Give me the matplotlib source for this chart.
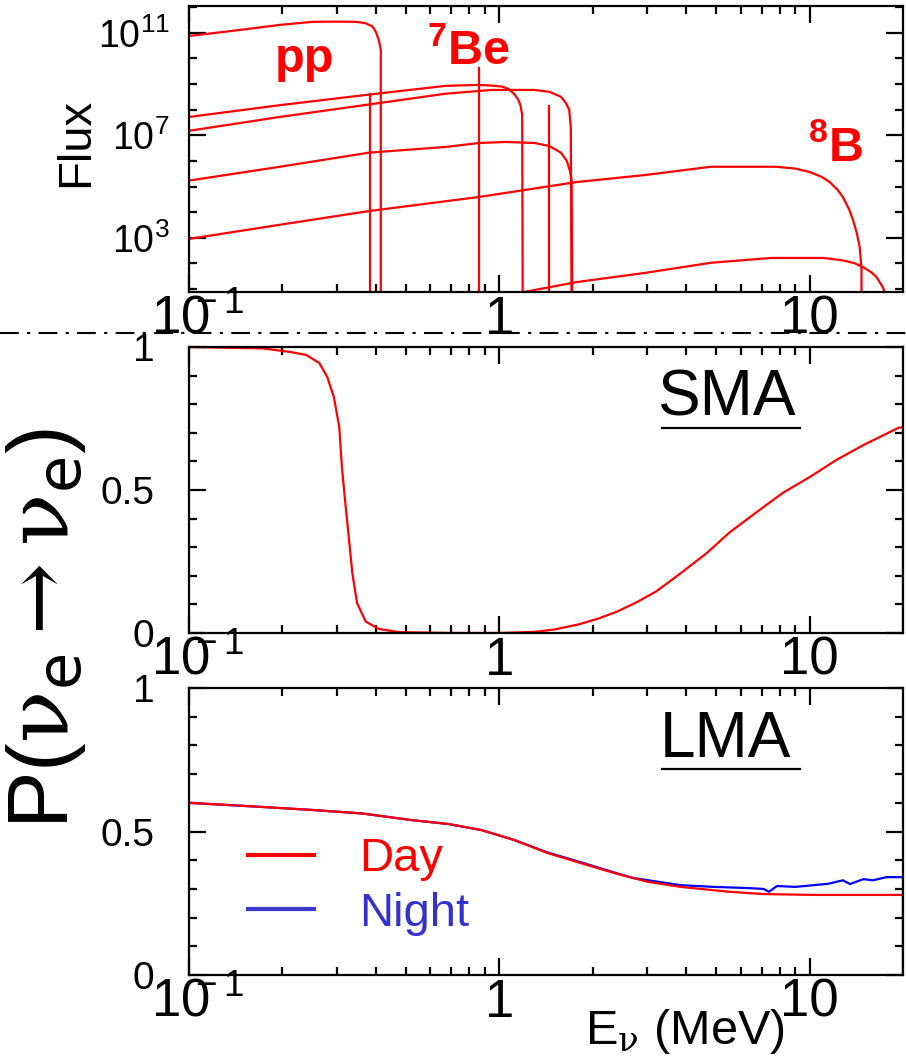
import numpy as np
import matplotlib
matplotlib.use("Agg")
import matplotlib.pyplot as plt
from matplotlib.lines import Line2D
from matplotlib.transforms import ScaledTranslation
from matplotlib.ticker import FixedLocator, FixedFormatter, NullFormatter

plt.rcParams['font.family'] = ['Liberation Sans', 'DejaVu Sans']
plt.rcParams['mathtext.fontset'] = 'custom'
plt.rcParams['mathtext.rm'] = 'Liberation Sans'
plt.rcParams['mathtext.it'] = 'Liberation Sans:italic'
plt.rcParams['mathtext.bf'] = 'Liberation Sans:bold'

# ---- top panel: solar neutrino fluxes ----
pp_E = [0.10, 0.13, 0.16, 0.196, 0.25, 0.30, 0.345, 0.37, 0.39, 0.40, 0.409, 0.415, 0.415]
pp_F = [7.6e10, 1.1e11, 1.5e11, 2.05e11, 2.7e11, 2.75e11, 2.7e11, 2.4e11, 1.8e11, 1.1e11, 5.3e10, 2.2e10, 1]

n13_E = [0.10, 0.196, 0.38, 0.67, 0.85, 0.94, 1.02, 1.07, 1.12, 1.15, 1.17, 1.185, 1.19]
n13_F = [5.2e7, 1.5e8, 3.9e8, 8.5e8, 9.3e8, 8.8e8, 8.0e8, 6.5e8, 4.0e8, 2.5e8, 1.5e8, 6.3e7, 1]

o15_E = [0.10, 0.196, 0.38, 0.67, 0.94, 1.30, 1.45, 1.58, 1.64, 1.68, 1.70, 1.71]
o15_F = [1.5e7, 5.2e7, 1.6e8, 4.2e8, 5.9e8, 5.9e8, 5.0e8, 3.2e8, 1.8e8, 1.0e8, 2.1e7, 1]

f17_E = [0.10, 0.196, 0.38, 0.67, 0.86, 1.05, 1.30, 1.45, 1.58, 1.65, 1.69, 1.71, 1.72]
f17_F = [1.7e5, 5.9e5, 2.1e6, 3.5e6, 5.0e6, 5.5e6, 5.0e6, 3.8e6, 2.1e6, 1.0e6, 4.0e5, 1.8e5, 1]

b8_E = [0.10, 0.196, 0.38, 0.86, 1.78, 2.94, 4.8, 7.8, 9.0, 10.0, 11.0, 11.6, 12.3, 12.8, 13.4, 13.8, 14.2, 14.5, 14.7, 14.7]
b8_F = [9.0e2, 3.2e3, 1.1e4, 3.9e4, 1.5e5, 2.8e5, 5.9e5, 5.9e5, 5.0e5, 3.7e5, 2.3e5, 1.5e5, 7.5e4, 3.9e4, 1.3e4, 5.0e3, 1.5e3, 4.4e2, 60, 1]

hep_E = [1.0, 1.78, 2.94, 4.8, 7.5, 11.1, 12.8, 14.0, 14.9, 15.8, 16.4, 17.2, 17.7]
hep_F = [5.0, 18.6, 42, 105, 162, 162, 130, 100, 70, 45, 30, 12, 5]

line_E = [0.384, 0.862, 1.442]      # 7Be (x2) and pep lines
line_F = [4.6e8, 4.7e9, 1.5e8]

# ---- middle panel: SMA survival probability ----
sma_E = [0.10, 0.173, 0.211, 0.239, 0.263, 0.279, 0.293, 0.305, 0.311, 0.32,
         0.328, 0.336, 0.348, 0.371, 0.409, 0.475, 0.7, 1.0, 1.3, 1.5, 1.8,
         2.08, 2.4, 2.8, 3.2, 3.8, 4.67, 5.5, 6.7, 8.2, 10.0, 12.2, 14.9, 19.3, 20.0, 20.0]
sma_P = [1.0, 0.995, 0.983, 0.972, 0.944, 0.895, 0.825, 0.72, 0.58, 0.44,
         0.325, 0.21, 0.105, 0.04, 0.014, 0.003, 0.0, 0.0, 0.004, 0.012, 0.03,
         0.05, 0.075, 0.11, 0.145, 0.205, 0.28, 0.35, 0.42, 0.49, 0.545, 0.605, 0.657, 0.717, 0.72, 0.0]

# ---- bottom panel: LMA day / night ----
day_E = [0.10, 0.169, 0.25, 0.36, 0.52, 0.686, 0.876, 1.12, 1.43, 1.83, 2.35,
         3.0, 3.84, 5.5, 7.1, 10.3, 20.0, 20.0]
day_P = [0.60, 0.586, 0.575, 0.563, 0.54, 0.526, 0.505, 0.47, 0.425, 0.39, 0.355,
         0.325, 0.307, 0.29, 0.282, 0.279, 0.279, 0.0]
night_E = [0.10, 0.169, 0.25, 0.36, 0.52, 0.686, 0.876, 1.12, 1.43, 1.83, 2.35,
           2.7, 3.84, 4.9, 6.3, 7.1, 7.4, 7.85, 9.0, 10.3, 11.5, 12.8, 13.5,
           14.9, 16.0, 17.7, 20.0, 20.0]
night_P = [0.60, 0.586, 0.575, 0.563, 0.54, 0.526, 0.505, 0.47, 0.427, 0.393, 0.357,
           0.338, 0.313, 0.307, 0.303, 0.30, 0.29, 0.31, 0.307, 0.313, 0.318, 0.33, 0.317,
           0.334, 0.33, 0.341, 0.341, 0.0]

x_major = [0.1, 1, 10]
x_labels = [r'$10^{\!\!\!\!-1}$', '1', '10']
x_minor = [0.2, 0.3, 0.4, 0.5, 0.6, 0.7, 0.8, 0.9, 2, 3, 4, 5, 6, 7, 8, 9]
flux_major = [1e3, 1e7, 1e11]
flux_labels = [r'$10^{3}$', r'$10^{7}$', r'$10^{11}$']
flux_minor = [1e1, 1e2, 1e4, 1e5, 1e6, 1e8, 1e9, 1e10, 1e12]

RED = '#ff0000'
W, H = 906, 1058
fig = plt.figure(figsize=(W / 100, H / 100), dpi=100)


def box(x0, y0, x1, y1):
    return [x0 / W, 1 - y1 / H, (x1 - x0) / W, (y1 - y0) / H]


def style(ax):
    ax.set_xscale('log')
    ax.set_xlim(0.1, 20)
    for s in ax.spines.values():
        s.set_linewidth(1.6)
    ax.xaxis.set_major_locator(FixedLocator(x_major))
    ax.xaxis.set_major_formatter(FixedFormatter(x_labels))
    ax.xaxis.set_minor_locator(FixedLocator(x_minor))
    ax.xaxis.set_minor_formatter(NullFormatter())
    ax.tick_params(which='both', direction='in', top=True, right=True, width=1.6)
    ax.tick_params(which='major', length=12)
    ax.tick_params(which='minor', length=6)
    ax.tick_params(axis='x', labelsize=38, pad=2)
    # nudge the 10^-1 label so that its "10" sits centred on the tick
    first = ax.xaxis.get_majorticklabels()[0]
    first.set_transform(first.get_transform() + ScaledTranslation(0.09, 0, fig.dpi_scale_trans))


# top panel
ax1 = fig.add_axes(box(189, 6, 903, 292))
style(ax1)
ax1.set_yscale('log')
ax1.set_ylim(10 ** 0.88, 10 ** 12.05)
for e, f in [(pp_E, pp_F), (n13_E, n13_F), (o15_E, o15_F), (f17_E, f17_F),
             (b8_E, b8_F), (hep_E, hep_F)]:
    ax1.plot(e, f, color=RED, lw=1.6)
ax1.vlines(line_E, 1, line_F, color=RED, lw=1.6)
ax1.yaxis.set_major_locator(FixedLocator(flux_major))
ax1.yaxis.set_major_formatter(FixedFormatter(flux_labels))
ax1.yaxis.set_minor_locator(FixedLocator(flux_minor))
ax1.yaxis.set_minor_formatter(NullFormatter())
ax1.tick_params(axis='y', labelsize=27, pad=14)
ax1.set_ylabel('Flux', fontsize=34)
ax1.yaxis.set_label_coords(-0.127, 0.524)

labels_top = [('pp', 305, 60), (r'$^{\mathbf{7}}$Be', 469, 52), (r'$^{\mathbf{8}}$B', 836, 148)]
for txt, xp, yp in labels_top:
    fig.text(xp / W, 1 - yp / H, txt, color=RED, fontsize=35, fontweight='bold',
             ha='center', va='center')

# middle panel (SMA)
ax2 = fig.add_axes(box(189, 347, 903, 633))
style(ax2)
ax2.plot(sma_E, sma_P, color=RED, lw=1.6)
ax2.set_ylim(0, 1)

# bottom panel (LMA)
ax3 = fig.add_axes(box(189, 688, 903, 975))
style(ax3)
ax3.plot(night_E, night_P, color='#0000ff', lw=1.6)
ax3.plot(day_E, day_P, color=RED, lw=1.6)
ax3.set_ylim(0, 1)

for ax, name in [(ax2, 'SMA'), (ax3, 'LMA')]:
    ax.set_yticks([0, 0.5, 1])
    ax.set_yticklabels(['0', '0.5', '1'])
    ax.yaxis.set_minor_locator(FixedLocator([0.1, 0.2, 0.3, 0.4, 0.6, 0.7, 0.8, 0.9]))
    ax.tick_params(axis='y', labelsize=28, pad=25)
    ax.text(0.752, 0.82, name, transform=ax.transAxes, fontsize=46,
            ha='center', va='center')
    ax.plot([0.662, 0.856], [0.717, 0.717], transform=ax.transAxes,
            color='k', lw=1.6)

ax3.legend(handles=[Line2D([], [], color=RED, lw=3),
                    Line2D([], [], color='#3a3acc', lw=3)],
           labels=['Day', 'Night'], labelcolor=[RED, '#3333cc'],
           fontsize=34, frameon=False, loc='upper left',
           bbox_to_anchor=(0.083, 0.48), borderpad=0, borderaxespad=0,
           handlelength=1.4, handletextpad=0.95, labelspacing=0.22)

t = ax3.set_xlabel(r'E$_{\mathrm{\nu}}$ (MeV)', fontsize=35)
t.set_math_fontfamily('dejavuserif')
ax3.xaxis.set_label_coords(0.695, -0.11)

yl = fig.text(46 / W, 1 - 628 / H,
              r'P($\mathrm{\nu}_{\mathsf{e}}\rightarrow\mathrm{\nu}_{\mathsf{e}}$)',
              fontsize=62, rotation=90, ha='center', va='center')
yl.set_math_fontfamily('dejavuserif')

fig.add_artist(Line2D([0, 1], [1 - 333 / H, 1 - 333 / H], transform=fig.transFigure,
                      color='k', lw=1.5, linestyle=(0, (9, 4, 1.5, 4))))

fig.savefig('out.png', dpi=100)
